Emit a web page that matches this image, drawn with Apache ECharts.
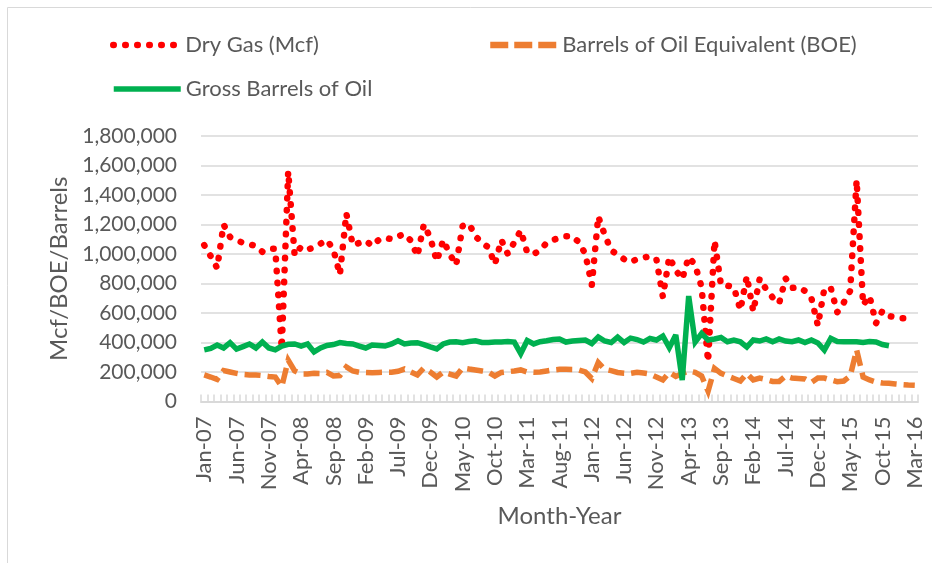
<!DOCTYPE html>
<html lang="en">
<head>
<meta charset="utf-8">
<style>
  html, body { margin: 0; height: 100%; background: #fff; }
  #chart { width: 932px; height: 563px; }
</style>
</head>
<body>
<div id="chart"></div>
<script src="https://cdn.jsdelivr.net/npm/echarts@6/dist/echarts.min.js"></script>
<script>
// monthly labels Jan-07 .. Mar-16
var monthNames = ['Jan', 'Feb', 'Mar', 'Apr', 'May', 'Jun', 'Jul', 'Aug', 'Sep', 'Oct', 'Nov', 'Dec'];
var months = [];
for (var k = 0; k < 111; k++) {
  var yy = 7 + Math.floor(k / 12);
  months.push(monthNames[k % 12] + '-' + (yy < 10 ? '0' + yy : '' + yy));
}

// thousands
var dryGas = [
  1060, 985, 905, 1200, 1115, 1095, 1075, 1065, 1055, 1015,
  1035, 1035, 360, 1560, 990, 1050, 1030, 1045, 1070, 1095,
  1030, 860, 1275, 1060, 1075, 1090, 1055, 1095, 1110, 1100,
  1120, 1135, 1090, 985, 1200, 1110, 950, 1095, 1000, 925,
  1190, 1205, 1120, 1075, 1045, 930, 1095, 1000, 1080, 1160,
  1010, 1000, 1025, 1075, 1095, 1110, 1120, 1120, 1080, 1000,
  790, 1255, 1130, 1025, 995, 965, 945, 965, 975, 985,
  965, 710, 980, 890, 830, 980, 925, 775, 270, 1090,
  790, 785, 775, 620, 850, 610, 835, 760, 705, 665,
  835, 770, 775, 750, 700, 515, 765, 770, 605, 670,
  750, 1500, 655, 715, 530, 615, 580, 570, 565, 565, null
];

var boe = [
  180, 166, 150, 210, 200, 191, 183, 180, 180, 176,
  170, 166, 100, 280, 207, 186, 186, 191, 190, 197,
  173, 176, 234, 207, 198, 197, 195, 197, 198, 198,
  205, 220, 200, 180, 227, 200, 166, 200, 186, 173,
  227, 220, 214, 207, 200, 173, 197, 202, 207, 214,
  200, 198, 200, 207, 214, 218, 218, 217, 214, 200,
  156, 264, 218, 209, 197, 191, 191, 198, 193, 186,
  166, 146, 197, 170, 190, 207, 197, 173, 70, 225,
  191, 173, 156, 139, 190, 146, 159, 149, 136, 136,
  173, 159, 156, 153, 129, 159, 159, 146, 134, 139,
  173, 350, 166, 146, 132, 125, 123, 119, 115, 112, 110
];

var grossOil = [
  350, 360, 383, 363, 399, 355, 372, 390, 363, 403,
  363, 350, 376, 388, 390, 376, 390, 336, 363, 380,
  386, 399, 393, 390, 376, 363, 383, 380, 376, 390,
  412, 390, 397, 399, 386, 370, 356, 390, 403, 405,
  399, 407, 412, 400, 400, 403, 403, 407, 403, 325,
  414, 390, 405, 412, 420, 424, 403, 410, 414, 417,
  393, 437, 410, 400, 437, 400, 430, 420, 403, 427,
  417, 444, 365, 451, 145, 715, 403, 461, 417, 424,
  434, 405, 417, 405, 369, 417, 410, 424, 405, 424,
  410, 405, 417, 399, 417, 397, 349, 428, 407, 405,
  405, 405, 400, 407, 403, 386, 378, null, null, null, null
];

function scale(arr) {
  return arr.map(function (v) { return v == null ? null : v * 1000; });
}

var FONT = 'Lato';
var TXT = '#595959';
var GRID = '#d9d9d9';

var chart = echarts.init(document.getElementById('chart'), null, { renderer: 'canvas' });

function legendAt(name, left, top, line) {
  return {
    data: [name], left: left, top: top,
    itemWidth: 67, itemHeight: 12,
    itemStyle: { opacity: 0 },
    lineStyle: line,
    textStyle: { fontFamily: FONT, fontSize: 22, color: TXT }
  };
}

var option = {
  animation: false,
  graphic: [{
    type: 'rect',
    shape: { x: 7.5, y: 7.5, width: 1000, height: 1000 },
    style: { fill: 'none', stroke: GRID, lineWidth: 1 },
    silent: true
  }],
  legend: [
    legendAt('Dry Gas (Mcf)', 105, 29, { width: 6.5, type: [0.5, 11.5], cap: 'round' }),
    legendAt('Barrels of Oil Equivalent (BOE)', 482, 29, { width: 6.5, type: [18, 6], cap: 'butt' }),
    legendAt('Gross Barrels of Oil', 106, 73, { width: 5.5, type: 'solid' })
  ],
  grid: { left: 201, right: 14, top: 136, bottom: 161.5, containLabel: false, outerBoundsMode: 'none' },
  xAxis: {
    type: 'category',
    data: months,
    boundaryGap: true,
    name: 'Month-Year',
    nameLocation: 'middle',
    nameGap: 103,
    nameTextStyle: { fontFamily: FONT, fontSize: 24, color: TXT },
    axisLine: { lineStyle: { color: GRID, width: 2 } },
    axisTick: { show: true, inside: true, length: 7, interval: 0, lineStyle: { color: GRID, width: 1.5 } },
    axisLabel: {
      interval: 4, rotate: 90, margin: 15,
      fontFamily: FONT, fontSize: 22, color: TXT
    },
    splitLine: { show: false }
  },
  yAxis: {
    type: 'value',
    min: 0, max: 1800000, interval: 200000,
    name: 'Mcf/BOE/Barrels',
    nameLocation: 'middle',
    nameGap: 106,
    nameTextStyle: { fontFamily: FONT, fontSize: 24, color: TXT },
    axisLine: { show: false },
    axisTick: { show: false },
    axisLabel: {
      margin: 24, fontFamily: FONT, fontSize: 21, color: TXT,
      formatter: function (v) { return v.toLocaleString('en-US'); }
    },
    splitLine: { lineStyle: { color: GRID, width: 1.5 } }
  },
  series: [
    {
      name: 'Dry Gas (Mcf)', type: 'line', data: scale(dryGas),
      symbol: 'none', connectNulls: false,
      lineStyle: { color: '#ff0000', width: 6.5, type: [0.5, 11.5], cap: 'round', join: 'round' },
      itemStyle: { color: '#ff0000' }
    },
    {
      name: 'Barrels of Oil Equivalent (BOE)', type: 'line', data: scale(boe),
      symbol: 'none',
      lineStyle: { color: '#ed7d31', width: 5.5, type: [16, 7], cap: 'butt', join: 'miter', miterLimit: 4 },
      itemStyle: { color: '#ed7d31' }
    },
    {
      name: 'Gross Barrels of Oil', type: 'line', data: scale(grossOil),
      symbol: 'none',
      lineStyle: { color: '#00b050', width: 5.5, join: 'miter', miterLimit: 3 },
      itemStyle: { color: '#00b050' }
    }
  ]
};

chart.setOption(option);
</script>
</body>
</html>
